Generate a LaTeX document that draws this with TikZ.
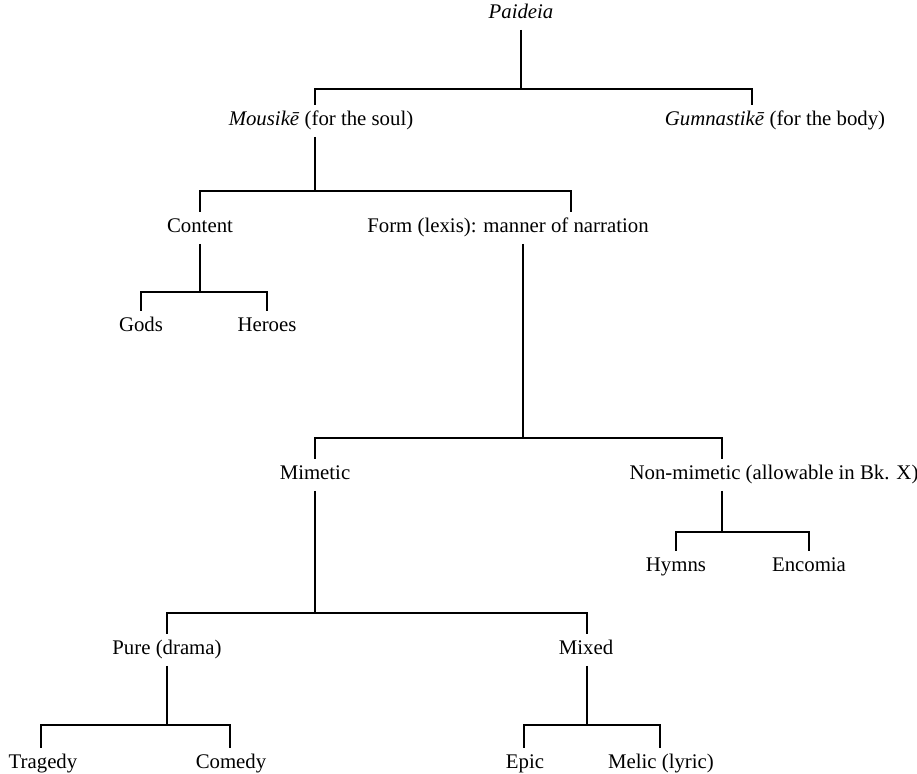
\documentclass[tikz,border=0pt]{standalone}
\usepackage{fontspec}
\setmainfont{Liberation Serif}
\begin{document}
\begin{tikzpicture}[x=0.5pt,y=-0.5pt,line width=0.6pt,
  every node/.style={font=\fontsize{10.4}{12}\selectfont,text height=7pt,text depth=2pt,inner sep=3.5pt,outer sep=0pt}]
\useasboundingbox (0,0) rectangle (917,774);
\node (paideia) at (521,14) {\textit{Paideia}};
\node (mousike) at (321,121) {\textit{Mousikē} (for the soul)};
\node (gumnastike) at (775,121) {\textit{Gumnastikē} (for the body)};
\node (content) at (200,228) {Content};
\node (form) at (508,228) {Form (lexis): manner of narration};
\node (gods) at (141,327) {Gods};
\node (heroes) at (267,327) {Heroes};
\node (mimetic) at (315,475) {Mimetic};
\node (nonmimetic) at (774,475) {Non-mimetic (allowable in Bk. X)};
\node (hymns) at (676,567) {Hymns};
\node (encomia) at (809,567) {Encomia};
\node (pure) at (167,650) {Pure (drama)};
\node (mixed) at (586,650) {Mixed};
\node (tragedy) at (43,764) {Tragedy};
\node (comedy) at (231,764) {Comedy};
\node (epic) at (525,764) {Epic};
\node (melic) at (661,764) {Melic (lyric)};
% bar corners
\coordinate (pa-l) at (315,89);  \coordinate (pa-r) at (752,89);
\coordinate (mo-j) at (315,191); \coordinate (mo-l) at (200,191); \coordinate (mo-r) at (571,191);
\coordinate (co-l) at (141,292); \coordinate (co-r) at (267,292);
\coordinate (fo-j) at (523,438); \coordinate (fo-l) at (315,438); \coordinate (fo-r) at (722,438);
\coordinate (nm-l) at (676,532); \coordinate (nm-r) at (809,532);
\coordinate (mi-l) at (167,613); \coordinate (mi-r) at (587,613);
\coordinate (pu-l) at (41,725);  \coordinate (pu-r) at (230,725);
\coordinate (mx-l) at (524,725); \coordinate (mx-r) at (660,725);
% brackets
\draw (paideia.south) -- (paideia.south |- pa-l);
\draw (pa-l |- mousike.north) -- (pa-l) -- (pa-r) -- (pa-r |- gumnastike.north);
\draw (mousike.south -| mo-j) -- (mo-j);
\draw (mo-l |- content.north) -- (mo-l) -- (mo-r) -- (mo-r |- form.north);
\draw (content.south -| mo-l) -- (mo-l |- co-l);
\draw (co-l |- gods.north) -- (co-l) -- (co-r) -- (co-r |- heroes.north);
\draw (form.south -| fo-j) -- (fo-j);
\draw (fo-l |- mimetic.north) -- (fo-l) -- (fo-r) -- (fo-r |- nonmimetic.north);
\draw (nonmimetic.south -| fo-r) -- (fo-r |- nm-l);
\draw (nm-l |- hymns.north) -- (nm-l) -- (nm-r) -- (nm-r |- encomia.north);
\draw (mimetic.south) -- (mimetic.south |- mi-l);
\draw (mi-l |- pure.north) -- (mi-l) -- (mi-r) -- (mi-r |- mixed.north);
\draw (pure.south -| mi-l) -- (mi-l |- pu-l);
\draw (pu-l |- tragedy.north) -- (pu-l) -- (pu-r) -- (pu-r |- comedy.north);
\draw (mixed.south -| mi-r) -- (mi-r |- mx-l);
\draw (mx-l |- epic.north) -- (mx-l) -- (mx-r) -- (mx-r |- melic.north);
\end{tikzpicture}
\end{document}
